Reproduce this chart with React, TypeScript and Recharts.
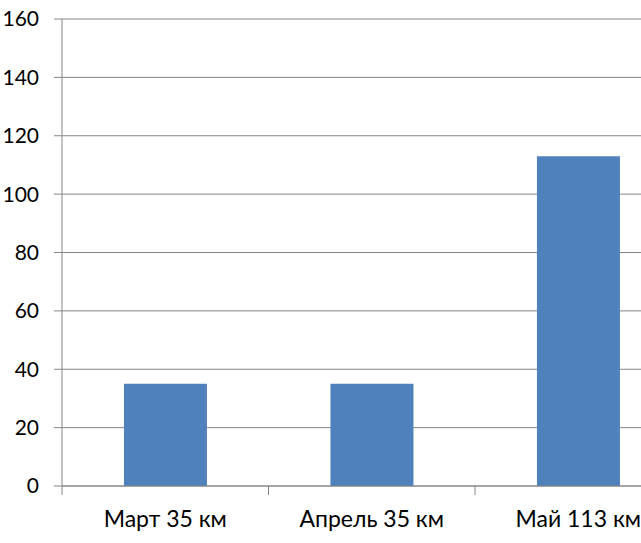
import React from 'react';
import { BarChart, Bar, XAxis, YAxis, CartesianGrid } from 'recharts';

const months = ['Март 35 км', 'Апрель 35 км', 'Май 113 км'];
const distances = [35, 35, 113];
const yTicks = [0, 20, 40, 60, 80, 100, 120, 140, 160];
const boundaryTicks = [0, 1, 2, 3];

const data = months.map((m, i) => ({ month: m, km: distances[i], pos: i + 0.5 }));

const GRID = '#868686';
const FONT = 'Lato, "Open Sans", sans-serif';

const App: React.FC = () => {
  return (
    <div style={{ position: 'fixed', left: 0, top: 0, width: 641, height: 543, overflow: 'hidden', background: '#fff' }}>
      <BarChart
        width={700}
        height={543}
        data={data}
        margin={{ top: 19, right: 18.5, bottom: 0, left: 0 }}
        barCategoryGap="30%"
      >
        <CartesianGrid xAxisId="cat" horizontal vertical={false} stroke={GRID} strokeWidth={1} />
        <XAxis
          xAxisId="bounds"
          type="number"
          dataKey="pos"
          domain={[0, 3]}
          ticks={boundaryTicks}
          allowDataOverflow
          height={1}
          tickFormatter={() => ''}
          tickSize={9}
          tickLine={{ stroke: GRID, strokeWidth: 1 }}
          axisLine={{ stroke: GRID }}
        />
        <XAxis
          xAxisId="cat"
          dataKey="month"
          height={56}
          tickLine={false}
          axisLine={false}
          tickSize={0}
          tickMargin={24}
          tick={{ fill: '#000', fontSize: 23, fontFamily: FONT }}
          interval={0}
        />
        <YAxis
          domain={[0, 160]}
          ticks={yTicks}
          width={62}
          tickSize={8}
          tickMargin={15}
          tickLine={{ stroke: GRID }}
          axisLine={{ stroke: GRID }}
          tick={{ fill: '#000', fontSize: 21, fontFamily: FONT }}
        />
        <Bar xAxisId="cat" dataKey="km" fill="#4F81BD" isAnimationActive={false} />
      </BarChart>
    </div>
  );
};

export default App;
